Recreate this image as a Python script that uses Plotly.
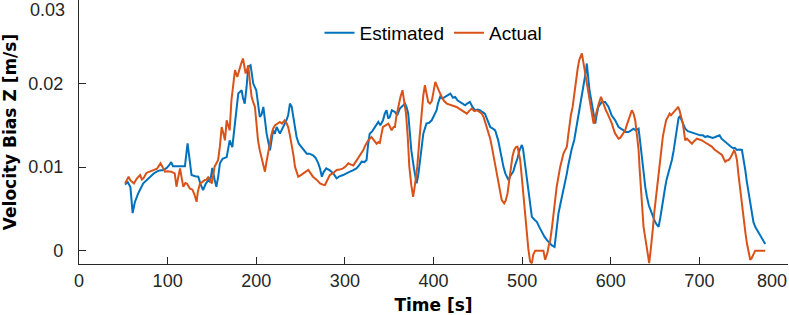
import plotly.graph_objects as go

# Time [s] and velocity bias (in mm/s, converted to m/s below)
t_est = [52, 55, 58, 60.5, 63, 67, 72.5, 76, 80, 84, 87.6, 91, 95, 99, 102, 104, 106, 110, 115, 119.5,
         122.5, 124.5, 127, 131, 134.6, 137, 140, 143, 146, 148, 150.4, 153, 155, 157, 159, 162, 166.6, 168, 170, 173,
         176, 178, 179.7, 181.5, 183.5, 185, 187, 189, 191, 193.6, 196.6, 200, 202, 204, 206, 208, 210, 211.7, 215.5, 219,
         221, 223, 226.7, 230.5, 234, 236, 238, 240, 242, 245.5, 248, 251, 254, 257, 260, 264, 267, 270, 272, 274,
         276, 279, 283, 287, 290.7, 294, 298, 302, 305.7, 309, 313, 316, 319, 322, 324.5, 326, 328, 331, 334, 337.7,
         340, 343, 345, 347, 349, 350.7, 353, 356.5, 359, 362, 365, 367.8, 369.5, 371.5, 373, 375, 378, 381, 383, 384.7,
         388.5, 392, 395, 398, 400, 403.5, 405, 407.5, 410, 413, 416, 419, 422, 424.5, 427, 430, 433, 435.7, 438, 441,
         444, 447, 450, 452.7, 455, 458, 461, 464, 467, 469.6, 473, 475, 477, 479, 481, 484.6, 487, 490, 492, 494.8,
         497, 499.7, 501, 503.5, 505, 507, 509, 511, 514, 516.6, 519, 522, 525, 528, 531.7, 534, 536.6, 538, 541, 543,
         546, 548, 550.5, 552, 554, 556, 558.8, 561, 563.6, 565.5, 567.4, 569, 570.4, 572, 573, 574.5, 576, 578.7, 580.5, 582.5,
         584, 586, 588, 590, 593.7, 597.5, 601, 605, 608.8, 611, 614.5, 617, 620, 623, 625.7, 628, 631.4, 633, 635, 637,
         639, 640.8, 643, 646.4, 648, 650, 652, 654, 656, 657.7, 659.5, 661.5, 663, 665, 667, 669, 671, 672.8, 674.5, 676.5,
         678, 680, 682, 684, 687, 689.7, 692, 695, 698, 701, 704, 706.6, 709, 712, 715, 718, 720, 722.8, 725, 727,
         730, 733, 736, 738.6, 740, 742.4, 745, 748, 750, 751.8, 753.5, 755.5, 757.5, 759.3, 761, 763, 766, 768.7, 771, 774.3]
v_est_mm = [7.9, 8.2, 7.6, 4.5, 5.8, 6.9, 8.05, 8.4, 8.85, 9.2, 9.45, 9.6, 9.65, 9.9, 10.25, 10.6, 10.1, 10.1, 10.15, 10.1,
            12.85, 11.0, 9.05, 8.9, 8.85, 8.0, 7.25, 8.0, 8.45, 8.2, 9.9, 8.5, 7.65, 8.8, 10.45, 11.0, 11.2, 12.0, 13.2, 12.4,
            15.2, 16.5, 18.8, 19.0, 19.2, 18.3, 17.6, 19.5, 22.0, 22.2, 20.0, 19.2, 17.8, 16.0, 16.3, 17.2, 15.5, 14.0, 12.0, 14.4,
            14.0, 14.8, 14.0, 14.8, 15.6, 16.2, 17.6, 17.2, 16.0, 13.6, 12.8, 12.4, 12.0, 11.6, 11.6, 11.4, 11.1, 10.45, 9.8, 8.85,
            9.4, 9.85, 9.6, 9.25, 8.65, 8.9, 9.05, 9.3, 9.45, 9.6, 9.85, 10.2, 10.65, 10.6, 10.85, 12.5, 14.0, 14.3, 14.8, 15.4,
            15.0, 15.6, 16.4, 16.8, 15.8, 16.0, 16.8, 16.6, 16.2, 17.0, 17.3, 17.6, 17.2, 16.4, 14.5, 12.0, 9.8, 8.05, 9.2, 10.85,
            14.0, 15.2, 15.3, 15.6, 16.0, 16.8, 17.6, 18.4, 18.2, 18.4, 18.5, 18.8, 18.3, 18.4, 18.0, 17.8, 17.6, 17.4, 17.6, 17.8,
            17.2, 16.8, 16.9, 16.8, 16.6, 16.4, 15.6, 14.8, 14.6, 14.4, 13.2, 12.0, 10.85, 10.0, 9.25, 8.45, 9.0, 9.45, 10.2, 11.05,
            12.0, 12.65, 12.2, 10.05, 8.6, 7.25, 5.6, 4.05, 3.7, 3.45, 2.9, 2.25, 1.7, 1.25, 0.85, 0.6, 0.45, 2.0, 4.45, 5.5,
            6.85, 8.0, 9.25, 10.2, 11.25, 12.2, 13.25, 14.6, 16.0, 17.2, 18.4, 19.5, 20.4, 21.5, 22.4, 20.8, 19.2, 17.6, 16.4, 15.2,
            16.2, 17.2, 17.5, 17.8, 17.8, 17.2, 16.2, 15.6, 14.8, 14.6, 14.4, 14.2, 14.2, 14.4, 14.6, 14.4, 14.6, 13.2, 11.2, 9.25,
            7.6, 6.45, 5.4, 4.45, 3.9, 3.45, 3.1, 2.85, 4.0, 5.25, 6.5, 7.65, 8.5, 9.25, 10.0, 10.85, 12.0, 13.25, 14.6, 15.85,
            16.1, 15.6, 15.0, 14.6, 14.3, 14.2, 14.1, 14.0, 13.9, 13.8, 13.8, 13.6, 13.7, 13.6, 13.5, 13.6, 13.7, 13.8, 13.4, 13.2,
            12.9, 12.65, 12.4, 12.25, 12.3, 12.05, 12.1, 12.05, 11.0, 9.65, 8.3, 6.85, 5.4, 4.05, 3.4, 2.85, 2.3, 1.85, 1.3, 0.8]

t_act = [52, 54, 56, 58, 60, 62, 65, 67, 69, 71, 73, 76, 80, 84, 88, 92, 94, 97, 100, 104,
         108, 110, 112, 114, 116, 117.7, 120, 122, 125, 128, 130, 132.7, 134, 136.5, 139, 142, 144, 146, 148, 150,
         153, 157, 159, 161, 163, 164.7, 166.6, 168, 170, 172, 174, 176, 178.6, 181.6, 183, 185, 186.5, 188, 190, 191,
         193, 194.8, 196.5, 198.5, 200, 202, 204, 206, 208, 209.8, 211.5, 213.6, 215, 217, 219, 221, 224, 226.7, 229, 232,
         234, 236, 238, 240, 242, 243.7, 245.5, 247.4, 250, 253, 256, 258.7, 261, 264, 268, 272, 275, 277.5, 280, 283,
         287, 290.7, 294, 298, 301, 304, 307, 309.5, 312, 315, 318, 320.8, 323, 326.4, 330, 333, 335.8, 338, 339.5, 341,
         343, 346, 349, 351, 352.7, 355, 356.5, 358, 360, 362.5, 365, 367, 369, 371, 372.7, 375, 377, 379, 381.7, 384,
         386.6, 388.5, 390.3, 392, 394, 396, 398, 400, 402, 403.5, 405.6, 407.5, 409.4, 412, 415, 418, 420.7, 424, 426, 429,
         432, 435, 437.6, 440, 443, 446, 449, 452, 454.5, 456.5, 458.3, 460, 462, 464, 465.8, 467.8, 469.6, 471.5, 473.4, 475,
         477, 479.8, 481.5, 483.5, 485.5, 487.3, 489, 491, 493, 494.8, 496.3, 497.8, 499.8, 501.6, 503.3, 505, 507, 509, 511, 512.5,
         514.7, 518, 521, 524, 526, 528.7, 530, 531.7, 533.5, 535.4, 537, 539, 541, 543, 546.7, 548.5, 550.5, 552, 553.5, 555,
         557, 559, 561, 562.7, 564.4, 566, 567.4, 568.7, 570, 571.5, 573, 575, 576.8, 578.7, 580.6, 582.5, 584.3, 586.5, 589, 591,
         592.6, 594.5, 596.4, 599, 601.3, 603, 605, 607, 608.8, 610.7, 612.6, 614.5, 616.3, 618, 620, 622, 623.8, 625.7, 627.6, 629.5,
         631.4, 632.7, 634, 635.5, 637, 639, 640.8, 642, 643.4, 644.7, 646, 647.5, 649, 651, 652.8, 654.3, 655.8, 657.3, 658.8, 660.7,
         662.6, 664.5, 666.4, 668, 670, 672, 674.6, 676, 677.6, 679.5, 681.4, 682.7, 684, 686, 687.8, 689.7, 691.6, 694, 697.2, 700,
         702.9, 705.7, 708.5, 711, 714, 717, 719.8, 722.5, 725.5, 727.5, 729.2, 731, 733, 735, 736.7, 739.4, 741, 742.4, 744, 746,
         748, 750, 752, 753.7, 755.5, 757.4, 759, 760.4, 763, 768, 774.3]
v_act_mm = [8.05, 8.5, 8.85, 8.4, 8.2, 8.05, 8.6, 8.9, 9.05, 8.5, 8.7, 9.3, 9.45, 9.6, 9.8, 10.45, 10.0, 9.45, 9.5, 9.45,
            9.25, 7.65, 8.8, 9.85, 8.6, 7.65, 8.1, 8.0, 7.45, 7.3, 6.8, 5.85, 7.0, 8.05, 8.2, 8.45, 8.5, 8.85, 8.4, 8.05,
            10.05, 10.85, 12.5, 14.8, 14.0, 13.2, 15.6, 15.0, 14.4, 18.0, 20.0, 21.6, 20.8, 22.0, 22.4, 23.0, 22.0, 21.2, 21.8, 22.2,
            20.0, 18.4, 17.8, 17.2, 15.5, 13.2, 12.0, 11.2, 10.5, 9.45, 10.6, 11.6, 12.6, 13.8, 14.6, 15.0, 15.2, 15.4, 15.2, 15.6,
            15.3, 14.8, 13.8, 12.8, 11.4, 10.05, 9.3, 8.85, 9.0, 9.25, 9.4, 9.65, 9.3, 8.85, 8.5, 8.05, 7.9, 7.85, 8.4, 9.05,
            9.3, 9.65, 9.7, 9.85, 10.1, 10.45, 10.3, 10.2, 10.6, 11.05, 11.5, 12.05, 12.6, 13.2, 13.6, 13.2, 12.8, 13.0, 12.9, 13.8,
            14.8, 15.0, 15.2, 14.8, 14.4, 14.8, 14.8, 16.0, 17.2, 18.3, 19.2, 18.0, 16.4, 13.5, 10.05, 7.8, 6.45, 7.8, 10.05, 13.2,
            16.8, 18.6, 19.8, 18.8, 17.8, 17.6, 17.9, 19.0, 20.2, 19.8, 19.2, 18.8, 18.4, 17.9, 17.6, 17.5, 17.4, 17.3, 17.2, 17.0,
            16.8, 16.6, 16.4, 16.7, 17.0, 16.7, 16.8, 16.6, 16.4, 16.0, 15.4, 14.9, 14.2, 13.4, 12.45, 11.3, 10.05, 8.8, 7.65, 6.8,
            6.05, 5.65, 6.0, 6.85, 8.4, 10.05, 11.2, 12.05, 12.4, 12.45, 11.8, 10.85, 8.6, 6.45, 4.2, 2.05, 0.2, -1.3, -1.5, -0.5,
            0.0, 0.0, 0.0, 0.0, -1.1, -0.2, 0.6, 1.25, 2.6, 4.05, 5.8, 7.65, 8.9, 10.05, 11.65, 12.0, 12.45, 13.8, 15.2, 16.2,
            17.2, 19.0, 20.8, 21.8, 22.8, 23.3, 23.6, 22.8, 22.0, 21.0, 20.0, 18.8, 17.6, 16.4, 15.2, 16.0, 16.8, 17.6, 18.4, 17.8,
            17.2, 16.8, 16.4, 15.8, 15.2, 14.6, 14.0, 13.7, 13.4, 13.5, 13.8, 14.1, 14.4, 15.0, 15.6, 16.2, 16.8, 16.4, 15.6, 13.9,
            12.05, 9.6, 7.25, 5.0, 2.85, 1.5, 0.45, -0.6, -1.5, -0.3, 0.85, 2.6, 4.45, 6.3, 8.05, 9.7, 11.25, 12.5, 13.65, 14.7,
            15.65, 16.0, 16.4, 16.2, 16.5, 16.7, 17.0, 17.2, 16.8, 16.0, 15.2, 14.2, 13.2, 13.4, 13.2, 13.0, 12.8, 13.1, 13.4, 13.3,
            13.2, 13.0, 12.8, 12.6, 12.45, 12.1, 11.85, 11.7, 11.45, 11.0, 10.65, 10.8, 10.85, 11.1, 11.45, 12.05, 11.5, 10.85, 9.2, 7.25,
            5.5, 3.65, 2.1, 0.85, -0.2, -1.1, -0.9, -0.5, 0.0, 0.0, 0.0]

x_tick_vals = [0, 100, 200, 300, 400, 500, 600, 700, 800]
x_tick_text = ["0", "100", "200", "300", "400", "500", "600", "700", ""]
y_tick_vals = [0, 0.01, 0.02, 0.03]
y_tick_text = ["0", "0.01", "0.02", ""]

MM = 1e-3
v_est = [v * MM for v in v_est_mm]
v_act = [v * MM for v in v_act_mm]

AX = "#262626"
TICKFONT = dict(family="Liberation Sans", size=18, color=AX)
TITLEFONT = dict(family="DejaVu Sans", size=17, color="#000000", weight="bold")

fig = go.Figure()
fig.add_trace(go.Scatter(x=t_est, y=v_est, mode="lines", name="Estimated",
                         line=dict(color="#0072BD", width=2)))
fig.add_trace(go.Scatter(x=t_act, y=v_act, mode="lines", name="Actual",
                         line=dict(color="#D95319", width=2)))

fig.update_layout(
    width=789, height=315, autosize=False,
    margin=dict(l=79, r=1, t=0, b=51),
    paper_bgcolor="white", plot_bgcolor="white",
    showlegend=True,
    legend=dict(orientation="h", x=0.5, xanchor="center", y=0.875, yanchor="middle",
                font=dict(family="Liberation Sans", size=19, color="#000000"),
                bgcolor="rgba(0,0,0,0)", itemwidth=30, tracegroupgap=0),
    xaxis=dict(range=[0, 800], tickvals=x_tick_vals, ticktext=x_tick_text,
               ticks="inside", ticklen=7, tickwidth=1.2, tickcolor=AX,
               showline=True, linecolor=AX, linewidth=1.3, mirror=False,
               showgrid=False, zeroline=False, tickfont=TICKFONT,
               automargin=False,
               title=dict(text="Time [s]", font=TITLEFONT)),
    yaxis=dict(range=[-0.0016, 0.03], tickvals=y_tick_vals, ticktext=y_tick_text,
               ticks="inside", ticklen=7, tickwidth=1.2, tickcolor=AX,
               showline=True, linecolor=AX, linewidth=1.3, mirror=False,
               showgrid=False, zeroline=False, tickfont=TICKFONT,
               automargin=False, ticklabelstandoff=11,
               title=dict(text="Velocity Bias Z [m/s]", font=TITLEFONT)),
    annotations=[
        dict(text="0.03", xref="paper", yref="y", x=0, y=0.03, xanchor="right", yanchor="top",
             xshift=-12, yshift=2, showarrow=False, font=TICKFONT),
        dict(text="800", xref="x", yref="paper", x=800, y=0, xanchor="right", yanchor="top",
             xshift=1, yshift=-5, showarrow=False, font=TICKFONT),
    ],
)

fig.write_html("out.html",
               config={"displayModeBar": False},
               post_script="document.body.style.margin='0';document.body.style.padding='0';")
